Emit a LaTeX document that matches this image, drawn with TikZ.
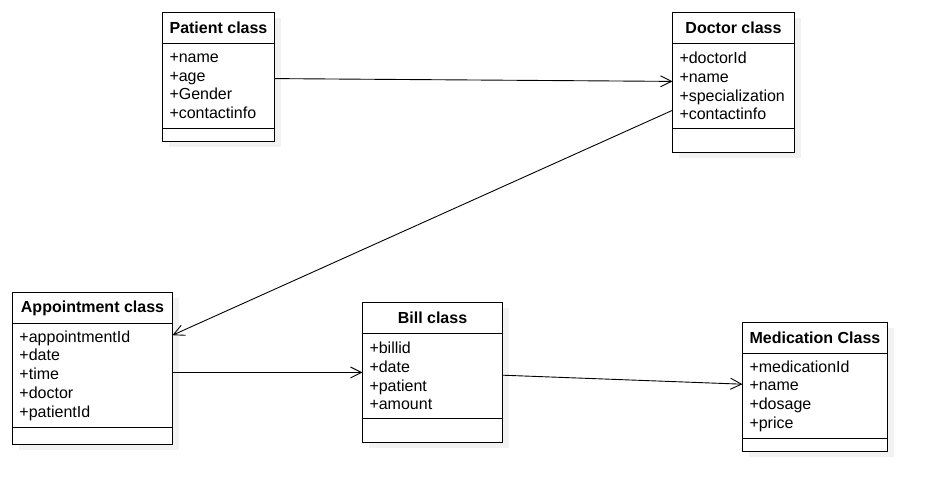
\documentclass[tikz,border=0pt]{standalone}
\usepackage{fontspec}
\setmainfont{Liberation Sans}
\usetikzlibrary{positioning,shadows,arrows.meta}

\begin{document}
\begin{tikzpicture}[x=1pt,y=-1pt,>={Straight Barb[length=11pt,width=11pt]},
    classpart/.style={draw=black, line width=1.2pt, fill=white, outer sep=0pt, inner ysep=2pt,
        font=\fontsize{16}{18.7}\selectfont,
        drop shadow={opacity=1, fill=black!5, shadow xshift=6pt, shadow yshift=-6pt}},
    titlenode/.style={classpart, minimum height=31pt, font=\fontsize{16}{18.7}\selectfont\bfseries},
    attrnode/.style={classpart, inner xsep=7pt, align=left},
    opsnode/.style={classpart},
    assoc/.style={->, line width=0.9pt},]
    \useasboundingbox (0,0) rectangle (938,502);
    % nodes
    \node[titlenode, minimum width=112pt]                       (pattitle)  at (162.5,12.5) [anchor=north west]  {Patient class};
    \node[attrnode, text width=98pt, minimum height=85pt]       (patattr)   [below=0pt of pattitle]  {+name\\+age\\+Gender\\+contactinfo};
    \node[opsnode, minimum width=112pt, minimum height=13pt]    (patops)    [below=0pt of patattr]   {};
    \node[titlenode, minimum width=122pt]                       (doctitle)  at (672.5,12.5) [anchor=north west]  {Doctor class};
    \node[attrnode, text width=108pt, minimum height=85pt]      (docattr)   [below=0pt of doctitle]  {+doctorId\\+name\\+specialization\\+contactinfo};
    \node[opsnode, minimum width=122pt, minimum height=24pt]    (docops)    [below=0pt of docattr]   {};
    \node[titlenode, minimum width=160pt]                       (apptitle)  at (12.5,292.5) [anchor=north west]  {Appointment class};
    \node[attrnode, text width=146pt, minimum height=104pt]     (appattr)   [below=0pt of apptitle]  {+appointmentId\\+date\\+time\\+doctor\\+patientId};
    \node[opsnode, minimum width=160pt, minimum height=17pt]    (appops)    [below=0pt of appattr]   {};
    \node[titlenode, minimum width=140pt]                       (billtitle) at (362.5,302.5) [anchor=north west] {Bill class};
    \node[attrnode, text width=126pt, minimum height=85pt]      (billattr)  [below=0pt of billtitle] {+billid\\+date\\+patient\\+amount};
    \node[opsnode, minimum width=140pt, minimum height=24pt]    (billops)   [below=0pt of billattr]  {};
    \node[titlenode, minimum width=145pt]                       (medtitle)  at (742.5,322.5) [anchor=north west] {Medication Class};
    \node[attrnode, text width=131pt, minimum height=85pt]      (medattr)   [below=0pt of medtitle]  {+medicationId\\+name\\+dosage\\+price};
    \node[opsnode, minimum width=145pt, minimum height=13pt]    (medops)    [below=0pt of medattr]   {};
    % lines
    \draw[assoc] ([yshift=7.4pt]patattr.east) -- ([yshift=4.6pt]docattr.west);
    \draw[assoc] ([yshift=-24.3pt]docattr.west) -- ([yshift=40.3pt]appattr.east);
    \draw[assoc] ([yshift=3pt]appattr.east) -- ([yshift=3.5pt]billattr.west);
    \draw[assoc] ([yshift=0.8pt]billattr.east) -- ([yshift=11.8pt]medattr.west);
\end{tikzpicture}
\end{document}
